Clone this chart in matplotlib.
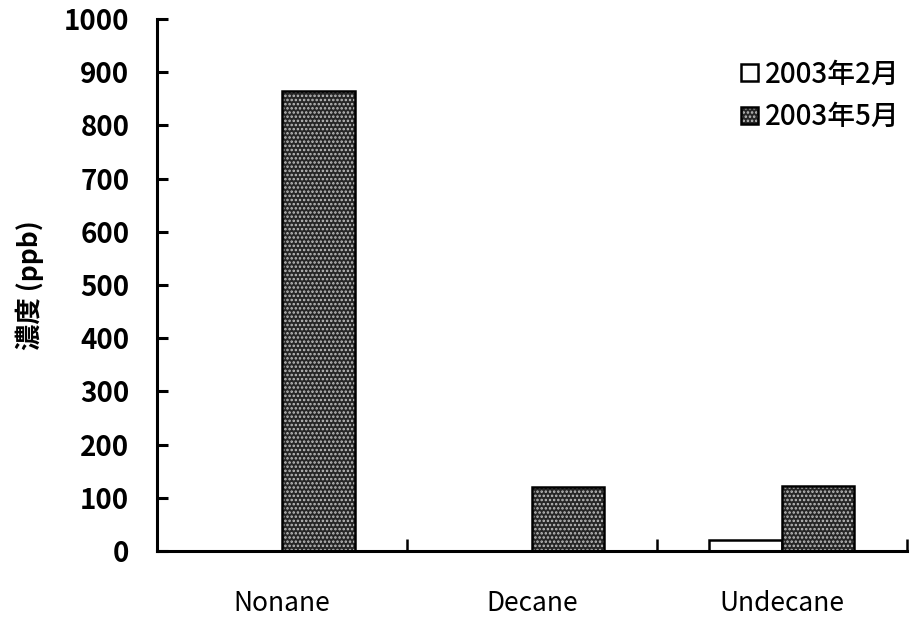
import numpy as np
import matplotlib
matplotlib.use('Agg')
import matplotlib.pyplot as plt

plt.rcParams['font.family'] = ['Noto Sans CJK JP', 'DejaVu Sans']
plt.rcParams['hatch.linewidth'] = 1.2

categories = ["Nonane", "Decane", "Undecane"]
feb_2003 = [0, 0, 20]
may_2003 = [865, 120, 122]
series_names = ["2003年2月", "2003年5月"]
yticks = list(range(0, 1001, 100))

def main():
    fig = plt.figure(figsize=(9.13, 6.21), dpi=100)
    ax = fig.add_axes([0.172, 0.1127, 0.8214, 0.8567])

    x = np.arange(len(categories))
    w = 0.29
    ax.bar(x, feb_2003, width=-w, align="edge", facecolor="white",
           edgecolor="black", linewidth=1.8, label=series_names[0])
    ax.bar(x, may_2003, width=w, align="edge", facecolor="#262626",
           edgecolor="black", linewidth=1.8, hatch="....",
           label=series_names[1])
    # light speckle over the dark fill
    for p in ax.patches[len(categories):]:
        p._hatch_color = (0.75, 0.75, 0.75, 1.0)

    ax.set_xlim(-0.5, len(categories) - 0.5)
    ax.set_ylim(0, 1000)
    ax.set_yticks(yticks)
    ax.set_xticks(x)
    ax.set_xticklabels(categories, fontweight="normal")
    ax.set_xticks(x + 0.5, minor=True)
    for t in ax.get_yticklabels():
        t.set_fontweight("bold")

    ax.spines["top"].set_visible(False)
    ax.spines["right"].set_visible(False)
    ax.spines["left"].set_linewidth(2.2)
    ax.spines["bottom"].set_linewidth(2.2)

    ax.tick_params(axis="y", direction="in", length=8, width=2.2,
                   labelsize=20, pad=20)
    ax.tick_params(axis="x", which="major", length=0, labelsize=19, pad=28)
    ax.tick_params(axis="x", which="minor", direction="in", length=9,
                   width=1.8)

    ax.set_ylabel("濃度 (ppb)", fontsize=19, fontweight="bold", labelpad=14)

    ax.legend(loc="upper right", bbox_to_anchor=(1.005, 0.945),
              frameon=False, prop={"size": 20, "weight": "medium"},
              handlelength=0.6, handleheight=0.6, handletextpad=0.25,
              labelspacing=0.5, borderaxespad=0)

    fig.savefig("out.png", dpi=100)

if __name__ == "__main__":
    main()
